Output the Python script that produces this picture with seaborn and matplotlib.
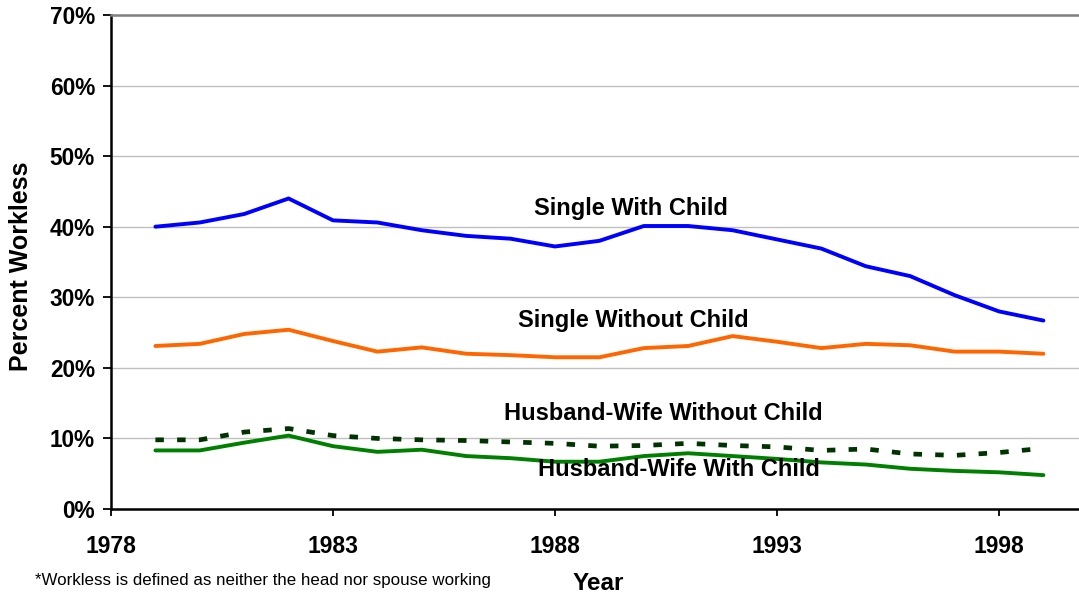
import numpy as np
import pandas as pd
import matplotlib
matplotlib.use("Agg")
import matplotlib.pyplot as plt
from matplotlib.ticker import FuncFormatter, MultipleLocator
import seaborn as sns

years = list(range(1979, 2000))
single_with_child = [40.0, 40.6, 41.8, 44.0, 40.9, 40.6, 39.5, 38.7, 38.3, 37.2, 38.0,
                     40.1, 40.1, 39.5, 38.2, 36.9, 34.4, 33.0, 30.3, 28.0, 26.7]
single_without_child = [23.1, 23.4, 24.8, 25.4, 23.8, 22.3, 22.9, 22.0, 21.8, 21.5, 21.5,
                        22.8, 23.1, 24.5, 23.7, 22.8, 23.4, 23.2, 22.3, 22.3, 22.0]
hw_without_child = [9.8, 9.8, 10.9, 11.4, 10.4, 10.0, 9.8, 9.7, 9.5, 9.3, 8.9,
                    9.0, 9.3, 9.0, 8.8, 8.3, 8.5, 7.8, 7.6, 8.0, 8.6]
hw_with_child = [8.3, 8.3, 9.4, 10.4, 8.9, 8.1, 8.4, 7.5, 7.2, 6.7, 6.7,
                 7.5, 7.9, 7.5, 7.1, 6.6, 6.3, 5.7, 5.4, 5.2, 4.8]

series_names = ["Single With Child", "Single Without Child",
                "Husband-Wife Without Child", "Husband-Wife With Child"]
series_values = [single_with_child, single_without_child, hw_without_child, hw_with_child]
x_ticks = [1978, 1983, 1988, 1993, 1998]
x_label = "Year"
y_label = "Percent Workless"
footnote = "*Workless is defined as neither the head nor spouse working"

df = pd.DataFrame({
    "Year": np.tile(years, len(series_names)),
    "Value": np.concatenate(series_values),
    "Series": np.repeat(series_names, len(years)),
})

sns.set_theme(style="white")
plt.rcParams["font.family"] = ["Liberation Sans", "DejaVu Sans"]

fig = plt.figure(figsize=(10.79, 5.99), dpi=100)
ax = fig.add_axes([111 / 1079, 90 / 599, 968 / 1079, 494 / 599])

styles = {
    "Single With Child": dict(color="#0000FF", lw=2.8, ls="-"),
    "Single Without Child": dict(color="#FF6600", lw=2.8, ls="-"),
    "Husband-Wife Without Child": dict(color="#003300", lw=3.4, ls=(0, (1.8, 2.8))),
    "Husband-Wife With Child": dict(color="#008000", lw=2.8, ls="-"),
}
for name in series_names:
    st = styles[name]
    sns.lineplot(data=df[df["Series"] == name], x="Year", y="Value", ax=ax,
                 color=st["color"], linewidth=st["lw"], linestyle=st["ls"],
                 legend=False, zorder=3)

ax.set_xlim(1978, 1978 + 968 / 44.4)
ax.set_ylim(0, 70)
ax.set_xticks(x_ticks)
ax.yaxis.set_major_locator(MultipleLocator(10))
ax.yaxis.set_major_formatter(FuncFormatter(lambda v, p: f"{v:.0f}%"))

ax.grid(axis="y", color="#c0c0c0", linewidth=1.0)
ax.grid(axis="x", visible=False)
ax.set_axisbelow(True)

for s in ["left", "bottom"]:
    ax.spines[s].set_color("black")
    ax.spines[s].set_linewidth(1.8)
ax.spines["top"].set_color("#808080")
ax.spines["top"].set_linewidth(1.8)
ax.spines["right"].set_visible(False)

ax.tick_params(axis="x", direction="out", length=5, width=1.3, pad=14,
               labelsize=16.5, colors="black", bottom=True)
ax.tick_params(axis="y", direction="out", length=5.5, width=1.3, pad=6,
               labelsize=16.3, colors="black", left=True)
for lbl in ax.get_xticklabels() + ax.get_yticklabels():
    lbl.set_fontweight("bold")

ax.set_xlabel(x_label, fontsize=17.5, fontweight="bold", color="black")
ax.set_ylabel(y_label, fontsize=18, fontweight="bold", color="black")
ax.xaxis.set_label_coords(0.503, -0.128)
ax.yaxis.set_label_coords(-0.081, 0.492)

label_pos = {
    "Single With Child": (1989.71, 41.66),
    "Single Without Child": (1989.77, 25.79),
    "Husband-Wife Without Child": (1990.45, 12.61),
    "Husband-Wife With Child": (1990.8, 4.68),
}
for name in series_names:
    x, y = label_pos[name]
    ax.text(x, y, name, ha="center", va="baseline", fontsize=17,
            fontweight="bold", color="black", zorder=4)

fig.text(35 / 1079, 14 / 599, footnote, ha="left", va="baseline",
         fontsize=12.2, color="black")

fig.savefig("out.png", dpi=100)
